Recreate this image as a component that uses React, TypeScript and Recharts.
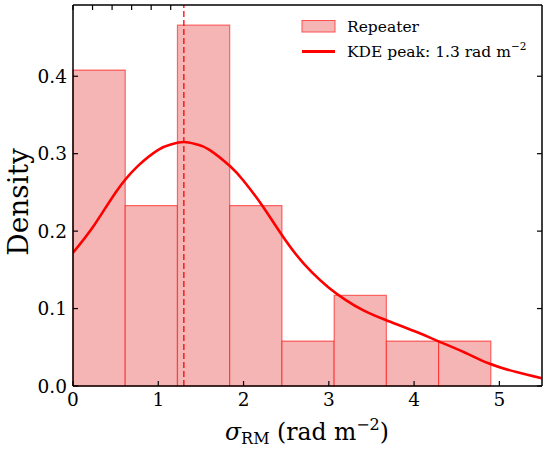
import React from 'react';
import { ComposedChart, Line, XAxis, YAxis, ReferenceArea, ReferenceLine, Legend } from 'recharts';

// histogram of sigma_RM (density-normalised)
const binEdges = [0, 0.6125, 1.225, 1.8375, 2.45, 3.0625, 3.675, 4.2875, 4.9];
const binDensity = [0.408, 0.233, 0.466, 0.233, 0.058, 0.117, 0.058, 0.058];

// KDE curve
const kdeX = [0, 0.25, 0.5, 0.75, 1.0, 1.15, 1.3, 1.45, 1.6, 1.84, 2.0, 2.2, 2.4, 2.6, 2.8, 3.0, 3.2, 3.4, 3.66, 4.0, 4.28, 4.6, 4.88, 5.2, 5.5];
const kdeY = [0.172, 0.208, 0.25, 0.283, 0.305, 0.312, 0.315, 0.312, 0.305, 0.284, 0.265, 0.236, 0.203, 0.172, 0.147, 0.127, 0.111, 0.098, 0.0855, 0.071, 0.058, 0.043, 0.029, 0.018, 0.01];
const kdePeak = 1.3;

const xTicks = [0, 1, 2, 3, 4, 5];
const yTicks = [0, 0.1, 0.2, 0.3, 0.4];

const kdeData = kdeX.map((x, i) => ({ x, kde: kdeY[i] }));

const FONT = '"DejaVu Serif", serif';

const BottomTick = (p: any) => (
  <g>
    <line x1={p.x} x2={p.x} y1={p.y} y2={p.y - 5} stroke="#000" strokeWidth={1.2} />
    <text x={p.x} y={p.y + 20} textAnchor="middle" fontSize={18.5} fill="#000" fontFamily={FONT}>
      {p.payload.value}
    </text>
  </g>
);

const TopTick = (p: any) => (
  <line x1={p.x} x2={p.x} y1={p.y} y2={p.y + 5} stroke="#000" strokeWidth={1.2} />
);

const LeftTick = (p: any) => (
  <g>
    <line x1={p.x} x2={p.x + 5} y1={p.y} y2={p.y} stroke="#000" strokeWidth={1.2} />
    <text x={p.x - 6} y={p.y + 6.5} textAnchor="end" fontSize={18.5} fill="#000" fontFamily={FONT}>
      {Number(p.payload.value).toFixed(1)}
    </text>
  </g>
);

const RightTick = (p: any) => (
  <line x1={p.x} x2={p.x - 5} y1={p.y} y2={p.y} stroke="#000" strokeWidth={1.2} />
);

const XLabel = () => (
  <text x={307} y={440} textAnchor="middle" fontSize={23.5} fill="#000" fontFamily={FONT}>
    <tspan fontStyle="italic">σ</tspan>
    <tspan fontSize={16} dy={4}>RM</tspan>
    <tspan dy={-4}> (rad m</tspan>
    <tspan fontSize={16} dy={-10}>−2</tspan>
    <tspan dy={10}>)</tspan>
  </text>
);

const YLabel = () => (
  <text x={28} y={202} transform="rotate(-90, 28, 202)" textAnchor="middle" fontSize={28} fill="#000" fontFamily={FONT}>
    Density
  </text>
);

const LegendBox = () => (
  <svg width={250} height={60} style={{ display: 'block', fontFamily: FONT }}>
    <rect x={7} y={10.5} width={33} height={11.5} fill="#f5b5b5" stroke="#ff5050" strokeWidth={1} />
    <text x={52} y={22} fontSize={15.5} fill="#000">Repeater</text>
    <line x1={7} x2={40} y1={41.5} y2={41.5} stroke="#ff0000" strokeWidth={3} />
    <text x={52} y={47} fontSize={15.5} fill="#000">
      KDE peak: 1.3 rad m<tspan fontSize={10.5} dy={-7}>−2</tspan>
    </text>
  </svg>
);

export default function App() {
  return (
    <div style={{ position: 'absolute', left: 0, top: 0, background: '#fff' }}>
      <ComposedChart
        width={550}
        height={451}
        data={kdeData}
        margin={{ top: 4, right: 7, bottom: 0, left: 0 }}
        style={{ fontFamily: FONT }}
      >
        <XAxis
          dataKey="x"
          type="number"
          domain={[0, 5.5]}
          allowDataOverflow
          ticks={xTicks}
          interval={0}
          height={65}
          tickSize={0}
          tickMargin={0}
          tickLine={false}
          axisLine={{ stroke: '#000', strokeWidth: 1.5 }}
          tick={BottomTick}
          label={XLabel}
        />
        <XAxis
          xAxisId="top"
          orientation="top"
          type="number"
          domain={[0, 5.5]}
          allowDataOverflow
          ticks={xTicks}
          interval={0}
          height={1}
          tickSize={0}
          tickMargin={0}
          tickLine={false}
          axisLine={{ stroke: '#000', strokeWidth: 1.5 }}
          tick={TopTick}
        />
        <YAxis
          type="number"
          domain={[0, 0.492]}
          allowDataOverflow
          ticks={yTicks}
          interval={0}
          width={73}
          tickSize={0}
          tickMargin={0}
          tickLine={false}
          axisLine={{ stroke: '#000', strokeWidth: 1.5 }}
          tick={LeftTick}
          label={YLabel}
        />
        <YAxis
          yAxisId="right"
          orientation="right"
          type="number"
          domain={[0, 0.492]}
          allowDataOverflow
          ticks={yTicks}
          interval={0}
          width={1}
          tickSize={0}
          tickMargin={0}
          tickLine={false}
          axisLine={{ stroke: '#000', strokeWidth: 1.5 }}
          tick={RightTick}
        />
        {binDensity.map((d, i) => (
          <ReferenceArea
            key={i}
            x1={binEdges[i]}
            x2={binEdges[i + 1]}
            y1={0}
            y2={d}
            fill="#f5b5b5"
            fillOpacity={1}
            stroke="#ff0000"
            strokeOpacity={0.55}
            strokeWidth={1.2}
          />
        ))}
        <ReferenceLine x={kdePeak} stroke="#ff0000" strokeWidth={1.3} strokeDasharray="6 3" />
        <Line
          dataKey="kde"
          type="natural"
          stroke="#ff0000"
          strokeWidth={2.6}
          dot={false}
          activeDot={false}
          isAnimationActive={false}
        />
        <Legend
          layout="horizontal"
          verticalAlign="middle"
          align="center"
          content={LegendBox}
          wrapperStyle={{ left: 295, top: 10, width: 250, height: 60 }}
        />
      </ComposedChart>
    </div>
  );
}
